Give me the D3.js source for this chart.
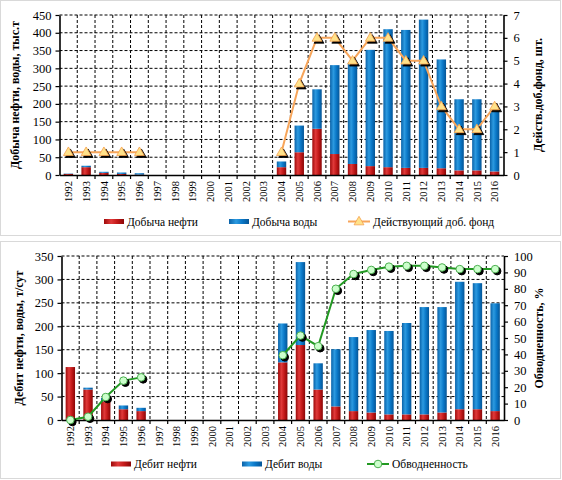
<!DOCTYPE html>
<html>
<meta charset="utf-8">
<style>
  body { margin: 0; background: #fff; }
  svg { width: 562px; height: 480px; display: block; }
  svg text { font-family: "Liberation Serif", Tinos, "Times New Roman", Times, "DejaVu Serif", serif; fill: #000; }
</style>
<body>
  <svg></svg>
</body>
<script src="https://cdn.jsdelivr.net/npm/d3@7/dist/d3.min.js"></script>
<script>

  var years = ["1992","1993","1994","1995","1996","1997","1998","1999","2000","2001","2002","2003",
               "2004","2005","2006","2007","2008","2009","2010","2011","2012","2013","2014","2015","2016"];

  // top chart: добыча, тыс.т and действующий фонд, шт.
  var oilProd   = [3, 22, 6, 3, 1, 0, 0, 0, 0, 0, 0, 0, 22, 64, 130, 59, 31, 25, 22, 20, 20, 19, 13, 13, 10];
  var waterProd = [1, 4, 3, 4, 4, 0, 0, 0, 0, 0, 0, 0, 16, 75, 111, 250, 285, 327, 388, 388, 417, 306, 200, 200, 172];
  var wells     = [1, 1, 1, 1, 1, null, null, null, null, null, null, null, 1, 4, 6, 6, 5, 6, 6, 5, 5, 3, 2, 2, 3];

  // bottom chart: дебит, т/сут and обводненность, %
  var oilRate   = [113, 65, 40, 23, 19, 0, 0, 0, 0, 0, 0, 0, 123, 160, 65, 29, 19, 16, 12, 12, 12, 16, 23, 23, 19];
  var waterRate = [0, 4, 7, 8, 7, 0, 0, 0, 0, 0, 0, 0, 83, 177, 56, 122, 158, 176, 178, 195, 229, 225, 272, 269, 230];
  var waterCut  = [0, 2, 14, 24, 26, null, null, null, null, null, null, null, 39.5, 51.5, 45, 80, 89, 91.5, 93.5, 94, 94, 93, 92, 92, 92];

  var leftTicksTop = [0, 50, 100, 150, 200, 250, 300, 350, 400, 450];
  var rightTicksTop = [0, 1, 2, 3, 4, 5, 6, 7];
  var leftTicksBot = [0, 50, 100, 150, 200, 250, 300, 350];
  var rightTicksBot = [0, 10, 20, 30, 40, 50, 60, 70, 80, 90, 100];

  var FONT = '"Liberation Serif", Tinos, "Times New Roman", Times, "DejaVu Serif", serif';

  var svg = d3.select("svg");

  // gradients for the bars
  var defs = svg.append("defs");
  function grad(id, stops) {
    var g = defs.append("linearGradient").attr("id", id)
      .attr("x1", "0%").attr("x2", "100%").attr("y1", "0%").attr("y2", "0%");
    stops.forEach(function(s) { g.append("stop").attr("offset", s[0]).attr("stop-color", s[1]); });
  }
  grad("gRed", [["0%", "#9e0a0a"], ["35%", "#e03a3a"], ["65%", "#c41a1a"], ["100%", "#8a0606"]]);
  grad("gBlue", [["0%", "#0a62a8"], ["35%", "#2c9ae0"], ["65%", "#0a78c8"], ["100%", "#055596"]]);

  // panel frames
  svg.append("rect").attr("x", 0.5).attr("y", 0.5).attr("width", 560).attr("height", 235)
    .attr("fill", "#fff").attr("stroke", "#d9d9d9");
  svg.append("rect").attr("x", 0.5).attr("y", 241.5).attr("width", 560).attr("height", 237)
    .attr("fill", "#fff").attr("stroke", "#d9d9d9");

  function drawPanel(cfg) {
    var g = svg.append("g");

    var x = d3.scaleBand().domain(years).range([cfg.left, cfg.right]).padding(0);
    var yL = d3.scaleLinear().domain([0, cfg.leftMax]).range([cfg.bottom, cfg.top]);
    var yR = d3.scaleLinear().domain([0, cfg.rightMax]).range([cfg.bottom, cfg.top]);
    var bw = x.bandwidth() * 0.53;

    // grid
    g.append("g").selectAll("line").data(cfg.leftTicks.slice(1)).enter().append("line")
      .attr("x1", cfg.left).attr("x2", cfg.right)
      .attr("y1", function(d) { return yL(d); }).attr("y2", function(d) { return yL(d); })
      .attr("stroke", "#000").attr("stroke-width", 1).attr("stroke-dasharray", "3,2");
    g.append("g").selectAll("line").data(years.slice(1)).enter().append("line")
      .attr("x1", function(d) { return x(d); }).attr("x2", function(d) { return x(d); })
      .attr("y1", cfg.top).attr("y2", cfg.bottom)
      .attr("stroke", "#000").attr("stroke-width", 1).attr("stroke-dasharray", "3,2");

    // stacked bars
    var bars = g.append("g");
    bars.selectAll("rect.oil").data(years).enter().append("rect")
      .attr("x", function(d) { return x(d) + (x.bandwidth() - bw) / 2; })
      .attr("width", bw)
      .attr("y", function(d, i) { return yL(cfg.oil[i]); })
      .attr("height", function(d, i) { return yL(0) - yL(cfg.oil[i]); })
      .attr("fill", "url(#gRed)");
    bars.selectAll("rect.water").data(years).enter().append("rect")
      .attr("x", function(d) { return x(d) + (x.bandwidth() - bw) / 2; })
      .attr("width", bw)
      .attr("y", function(d, i) { return yL(cfg.oil[i] + cfg.water[i]); })
      .attr("height", function(d, i) { return yL(cfg.oil[i]) - yL(cfg.oil[i] + cfg.water[i]); })
      .attr("fill", "url(#gBlue)");

    // axes
    var axL = g.append("g").attr("transform", "translate(" + cfg.left + ",0)")
      .call(d3.axisLeft(yL).tickValues(cfg.leftTicks).tickFormat(d3.format("d"))
        .tickSize(4).tickPadding(4).tickSizeOuter(0));
    var axR = g.append("g").attr("transform", "translate(" + cfg.right + ",0)")
      .call(d3.axisRight(yR).tickValues(cfg.rightTicks).tickFormat(d3.format("d"))
        .tickSize(4).tickPadding(6).tickSizeOuter(0));
    var axB = g.append("g").attr("transform", "translate(0," + cfg.bottom + ")")
      .call(d3.axisBottom(x).tickSize(0).tickSizeOuter(0));
    [axL, axR, axB].forEach(function(a) {
      a.attr("font-family", null);
      a.select(".domain").attr("stroke", "#000").attr("stroke-width", 1.6);
      a.selectAll(".tick line").attr("stroke", "#000").attr("stroke-width", 1.2);
      a.selectAll("text").style("font-family", FONT).attr("fill", "#000");
    });
    axL.selectAll("text").style("font-size", "12.5px");
    axR.selectAll("text").style("font-size", "12.5px");
    axB.selectAll("text").style("font-size", "10.5px")
      .attr("transform", "rotate(-90)").attr("x", -6).attr("y", 0).attr("dy", "0.35em")
      .style("text-anchor", "end");
    // tick marks at category boundaries
    g.append("g").selectAll("line").data(years.slice(1)).enter().append("line")
      .attr("x1", function(d) { return x(d); }).attr("x2", function(d) { return x(d); })
      .attr("y1", cfg.bottom).attr("y2", cfg.bottom + 4)
      .attr("stroke", "#000").attr("stroke-width", 1.2);

    // line series
    var line = d3.line()
      .defined(function(d) { return d.v != null; })
      .x(function(d) { return x(d.k) + x.bandwidth() / 2; })
      .y(function(d) { return yR(d.v); });
    var pts = years.map(function(k, i) { return {k: k, v: cfg.line[i]}; });
    g.append("path").datum(pts).attr("d", line)
      .attr("fill", "none").attr("stroke", cfg.lineColor).attr("stroke-width", 2);

    var mk = g.append("g").selectAll("g").data(pts.filter(function(d) { return d.v != null; }))
      .enter().append("g")
      .attr("transform", function(d) { return "translate(" + (x(d.k) + x.bandwidth() / 2) + "," + yR(d.v) + ")"; });
    drawMarker(mk, cfg.marker, true);
    drawMarker(mk, cfg.marker, false);

    // axis titles
    g.append("text")
      .attr("transform", "translate(" + cfg.titleLX + "," + ((cfg.top + cfg.bottom) / 2) + ") rotate(-90)")
      .attr("text-anchor", "middle").style("font-size", "12px").style("font-weight", "bold")
      .style("font-family", FONT).text(cfg.titleL);
    g.append("text")
      .attr("transform", "translate(" + cfg.titleRX + "," + ((cfg.top + cfg.bottom) / 2) + ") rotate(-90)")
      .attr("text-anchor", "middle").style("font-size", "12px").style("font-weight", "bold")
      .style("font-family", FONT).text(cfg.titleR);

    // legend
    var lg = g.append("g").attr("transform", "translate(0," + cfg.legendY + ")");
    lg.append("rect").attr("x", cfg.legendX[0]).attr("y", -2.5).attr("width", 20).attr("height", 5).attr("fill", "url(#gRed)");
    lg.append("text").attr("x", cfg.legendX[0] + 23).attr("dy", "0.35em").style("font-size", "11.5px")
      .style("font-family", FONT).text(cfg.legend[0]);
    lg.append("rect").attr("x", cfg.legendX[1]).attr("y", -2.5).attr("width", 20).attr("height", 5).attr("fill", "url(#gBlue)");
    lg.append("text").attr("x", cfg.legendX[1] + 23).attr("dy", "0.35em").style("font-size", "11.5px")
      .style("font-family", FONT).text(cfg.legend[1]);
    lg.append("line").attr("x1", cfg.legendX[2]).attr("x2", cfg.legendX[2] + 22)
      .attr("stroke", cfg.lineColor).attr("stroke-width", 2);
    var lm = lg.append("g").attr("transform", "translate(" + (cfg.legendX[2] + 11) + ",0)");
    drawMarker(lm, cfg.marker, false);
    lg.append("text").attr("x", cfg.legendX[2] + 25).attr("dy", "0.35em").style("font-size", "11.5px")
      .style("font-family", FONT).text(cfg.legend[2]);
  }

  function drawMarker(sel, type, shadow) {
    var dx = shadow ? 2 : 0;
    if (type === "tri") {
      sel.append("path")
        .attr("d", d3.symbol().type(d3.symbolTriangle).size(42))
        .attr("transform", "translate(" + dx + "," + (dx + 0.5) + ")")
        .attr("fill", shadow ? "#000" : "#ffe28a")
        .attr("stroke", shadow ? "#000" : "#f5a04a").attr("stroke-width", 0.8);
    } else {
      sel.append("circle").attr("cx", dx).attr("cy", dx).attr("r", 3.8)
        .attr("fill", shadow ? "#000" : "#ccffcc")
        .attr("stroke", shadow ? "#000" : "#4caf50").attr("stroke-width", 1);
    }
  }

  drawPanel({
    left: 59.5, right: 503.5, top: 15, bottom: 175,
    leftMax: 450, rightMax: 7, leftTicks: leftTicksTop, rightTicks: rightTicksTop,
    oil: oilProd, water: waterProd, line: wells,
    lineColor: "#f7a55a", marker: "tri",
    titleL: "Добыча нефти, воды, тыс.т", titleR: "Действ.доб.фонд, шт.",
    titleLX: 19, titleRX: 542,
    legendY: 221.5, legendX: [104, 229, 348],
    legend: ["Добыча нефти", "Добыча воды", "Действующий доб. фонд"]
  });

  drawPanel({
    left: 61.5, right: 504, top: 256, bottom: 420,
    leftMax: 350, rightMax: 100, leftTicks: leftTicksBot, rightTicks: rightTicksBot,
    oil: oilRate, water: waterRate, line: waterCut,
    lineColor: "#229922", marker: "circ",
    titleL: "Дебит нефти, воды, т/сут", titleR: "Обводненность, %",
    titleLX: 23, titleRX: 543,
    legendY: 464, legendX: [111, 242, 367],
    legend: ["Дебит нефти", "Дебит воды", "Обводненность"]
  });

</script>
</html>
